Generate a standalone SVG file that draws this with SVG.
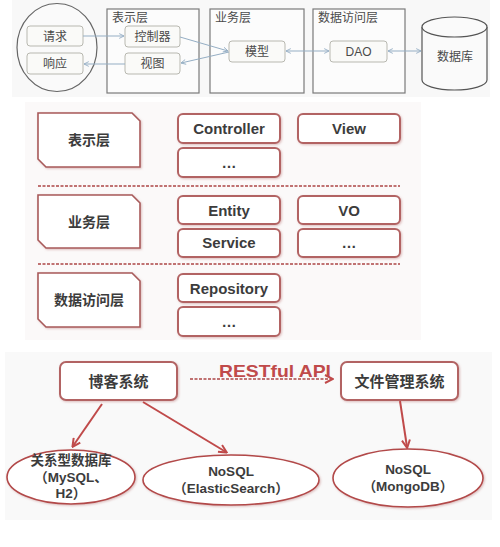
<svg xmlns="http://www.w3.org/2000/svg" width="500" height="547" viewBox="0 0 500 547">
<defs>
<style>
.t{font-family:"Liberation Sans","Noto Sans CJK SC",sans-serif;}
.top{font-size:12px;fill:#4a4a4a;}
.panel{fill:#fcfcfc;stroke:#7a7a7a;stroke-width:1.2;}
.sbox{fill:#fafaf8;stroke:#b8b8b0;stroke-width:1;}
.blue{stroke:#95aec4;stroke-width:1;fill:none;}
.lay{fill:#fff;stroke:#a85a5a;stroke-width:1.6;filter:url(#sh);}
.rb{fill:#fff;stroke:#b26464;stroke-width:2;filter:url(#sh);}
.mt{font-size:15px;font-weight:bold;fill:#3c3c3c;}
.dash{stroke:#c07272;stroke-width:2;stroke-dasharray:3 1.5;fill:none;}
.red{stroke:#c04a4a;stroke-width:2;fill:none;}
.ell{fill:#fff;stroke:#b24848;stroke-width:1.6;filter:url(#sh);}
.et{font-size:13.5px;font-weight:bold;fill:#3c3c3c;}
</style>
<filter id="sh" x="-10%" y="-20%" width="120%" height="140%">
<feDropShadow dx="1" dy="1" stdDeviation="1" flood-color="#c08080" flood-opacity="0.5"/>
</filter>
<marker id="ab" viewBox="0 0 10 10" refX="9" refY="5" markerWidth="6" markerHeight="6" orient="auto-start-reverse">
<path d="M1,1 L9,5 L1,9" fill="none" stroke="#95aec4" stroke-width="1.5"/>
</marker>
<marker id="ar" viewBox="0 0 10 10" refX="8" refY="5" markerWidth="5" markerHeight="5" orient="auto">
<path d="M1,1 L9,5 L1,9" fill="none" stroke="#c04a4a" stroke-width="2"/>
</marker>
</defs>
<rect width="500" height="547" fill="#ffffff"/>
<rect x="12" y="0" width="478" height="97" fill="#f8f8f8"/>
<rect x="25" y="102" width="396" height="238" fill="#fbf9f9"/>
<rect x="5" y="352" width="487" height="168" fill="#f9f9f9"/>

<!-- top section -->
<g id="client">
<ellipse cx="57" cy="47.5" rx="40" ry="44" fill="#fafafa" stroke="#666" stroke-width="1.2"/>
</g>
<g id="req"><rect class="sbox" x="27" y="26" width="56" height="20" rx="3"/><text class="t top" x="55" y="40.5" text-anchor="middle">请求</text></g>
<g id="resp"><rect class="sbox" x="27" y="53" width="56" height="21" rx="3"/><text class="t top" x="55" y="68" text-anchor="middle">响应</text></g>
<g id="p-present"><rect class="panel" x="107" y="9" width="92" height="84"/><text class="t top" x="112" y="22">表示层</text></g>
<g id="ctrl"><rect class="sbox" x="125" y="26" width="55" height="21" rx="3"/><text class="t top" x="152.5" y="41" text-anchor="middle">控制器</text></g>
<g id="viewcn"><rect class="sbox" x="125" y="53" width="55" height="21" rx="3"/><text class="t top" x="152.5" y="68" text-anchor="middle">视图</text></g>
<g id="p-biz"><rect class="panel" x="210" y="9" width="94" height="84"/><text class="t top" x="215" y="22">业务层</text></g>
<g id="model"><rect class="sbox" x="229" y="41" width="56" height="21" rx="3"/><text class="t top" x="257" y="56" text-anchor="middle">模型</text></g>
<g id="p-dao"><rect class="panel" x="313" y="9" width="92" height="84"/><text class="t top" x="318" y="22">数据访问层</text></g>
<g id="dao"><rect class="sbox" x="330" y="41" width="57" height="21" rx="3"/><text class="t top" x="358.5" y="56" text-anchor="middle">DAO</text></g>
<g id="db">
<path d="M422,27 L422,80 A32.5,10 0 0 0 487,80 L487,27" fill="#fafafa" stroke="#555" stroke-width="1.2"/>
<ellipse cx="454.5" cy="27" rx="32.5" ry="10" fill="#fafafa" stroke="#555" stroke-width="1.2"/>
<text class="t top" x="455" y="61" text-anchor="middle">数据库</text>
</g>

<!-- middle section -->
<g id="l-present"><path class="lay" d="M38,113 L132,113 L140,121 L140,167 L46,167 L38,159 Z"/><text class="t" x="89" y="145" font-size="14" font-weight="bold" fill="#3c3c3c" text-anchor="middle">表示层</text></g>
<g id="l-biz"><path class="lay" d="M38,195 L132,195 L140,203 L140,248 L46,248 L38,240 Z"/><text class="t" x="89" y="227" font-size="14" font-weight="bold" fill="#3c3c3c" text-anchor="middle">业务层</text></g>
<g id="l-dao"><path class="lay" d="M38,273 L132,273 L140,281 L140,327 L46,327 L38,319 Z"/><text class="t" x="89" y="305" font-size="14" font-weight="bold" fill="#3c3c3c" text-anchor="middle">数据访问层</text></g>
<g id="b-controller"><rect class="rb" x="178" y="114" width="102" height="29" rx="5"/><text class="t mt" x="229" y="134" text-anchor="middle">Controller</text></g>
<g id="b-view"><rect class="rb" x="298" y="114" width="102" height="29" rx="5"/><text class="t mt" x="349" y="134" text-anchor="middle">View</text></g>
<g id="b-etc1"><rect class="rb" x="178" y="148" width="102" height="29" rx="5"/><text class="t mt" x="229" y="168" text-anchor="middle">…</text></g>
<g id="b-entity"><rect class="rb" x="178" y="196" width="102" height="28" rx="5"/><text class="t mt" x="229" y="216" text-anchor="middle">Entity</text></g>
<g id="b-vo"><rect class="rb" x="298" y="196" width="102" height="28" rx="5"/><text class="t mt" x="349" y="216" text-anchor="middle">VO</text></g>
<g id="b-service"><rect class="rb" x="178" y="229" width="102" height="28" rx="5"/><text class="t mt" x="229" y="248" text-anchor="middle">Service</text></g>
<g id="b-etc2"><rect class="rb" x="298" y="229" width="102" height="28" rx="5"/><text class="t mt" x="349" y="248" text-anchor="middle">…</text></g>
<g id="b-repo"><rect class="rb" x="178" y="274" width="102" height="28" rx="5"/><text class="t mt" x="229" y="294" text-anchor="middle">Repository</text></g>
<g id="b-etc3"><rect class="rb" x="178" y="307" width="102" height="29" rx="5"/><text class="t mt" x="229" y="327" text-anchor="middle">…</text></g>

<!-- bottom section -->
<g id="blog"><rect class="rb" x="60" y="362" width="117" height="38" rx="6"/><text class="t" x="118.5" y="386.5" font-size="15" font-weight="bold" fill="#3c3c3c" text-anchor="middle">博客系统</text></g>
<g id="files"><rect class="rb" x="341" y="362" width="117" height="38" rx="6"/><text class="t" x="399.5" y="386.5" font-size="15" font-weight="bold" fill="#3c3c3c" text-anchor="middle">文件管理系统</text></g>
<g id="e-rdb"><ellipse class="ell" cx="71" cy="477" rx="64" ry="27"/>
<text class="t et" text-anchor="middle"><tspan x="71" y="465">关系型数据库</tspan><tspan x="71" y="482">（MySQL、</tspan><tspan x="71" y="498">H2）</tspan></text></g>
<g id="e-es"><ellipse class="ell" cx="231" cy="480" rx="88" ry="25"/>
<text class="t et" text-anchor="middle"><tspan x="231" y="476">NoSQL</tspan><tspan x="231" y="493">（ElasticSearch）</tspan></text></g>
<g id="e-mongo"><ellipse class="ell" cx="408" cy="478" rx="75" ry="29"/>
<text class="t et" text-anchor="middle"><tspan x="408" y="474">NoSQL</tspan><tspan x="408" y="491">（MongoDB）</tspan></text></g>

<g id="connectors">
<line class="blue" x1="83" y1="36" x2="124" y2="36" marker-end="url(#ab)"/>
<line class="blue" x1="125" y1="64" x2="84" y2="64" marker-end="url(#ab)"/>
<line class="blue" x1="180" y1="37" x2="228" y2="51" marker-end="url(#ab)"/>
<line class="blue" x1="229" y1="52" x2="181" y2="63" marker-end="url(#ab)"/>
<line class="blue" x1="286" y1="51" x2="329" y2="51" marker-start="url(#ab)" marker-end="url(#ab)"/>
<line class="blue" x1="388" y1="51" x2="421" y2="51" marker-start="url(#ab)" marker-end="url(#ab)"/>
<line class="dash" x1="38" y1="186" x2="400" y2="186"/>
<line class="dash" x1="38" y1="264" x2="400" y2="264"/>
<line class="dash" x1="190" y1="379" x2="332" y2="379" stroke-width="1.6" marker-end="url(#ar)"/>
<text class="t" x="275" y="377" font-size="17" font-weight="bold" fill="#c04a4a" text-anchor="middle" textLength="112" lengthAdjust="spacingAndGlyphs">RESTful API</text>
<line class="red" x1="102" y1="404" x2="73" y2="446" marker-end="url(#ar)"/>
<line class="red" x1="143" y1="402" x2="226" y2="452" marker-end="url(#ar)"/>
<line class="red" x1="400" y1="401" x2="407" y2="447" marker-end="url(#ar)"/>
</g>
</svg>
